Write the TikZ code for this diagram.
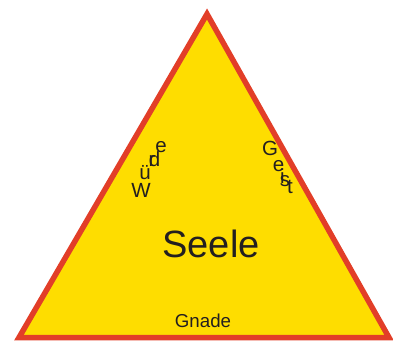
\documentclass[tikz,border=0pt]{standalone}
\usepackage{fontspec}
\setmainfont{Liberation Sans}
\definecolor{dreieckrot}{RGB}{226,62,40}
\definecolor{dreieckgelb}{RGB}{254,221,0}
\definecolor{schrift}{RGB}{35,31,32}
\tikzset{
  buchstabe/.style={anchor=base, inner sep=0pt, text=schrift, font=\fontsize{20.5}{22}\selectfont},
}
\begin{document}
\begin{tikzpicture}[x=1pt, y=-1pt]
\useasboundingbox (0,0) rectangle (393,341);
\draw[fill=dreieckgelb, draw=dreieckrot, line width=5.5pt, line join=miter] (19,337.5) -- (207,14) -- (389,337.5) -- cycle;
% Wuerde, linke Seite
\foreach \c/\x/\y/\n in {W/141/197/w1, ü/145/179.5/w2, r/152/166/w3, d/154.5/166/w4, e/161/152/w5}
{
	\node[buchstabe] (\n) at (\x,\y) {\c};
}
% Geist, rechte Seite
\foreach \c/\x/\y/\n in {G/270/155/g1, e/278.5/171.5/g2, i/282.5/183/g3, s/285/186/g4, t/290/193/g5}
{
	\node[buchstabe] (\n) at (\x,\y) {\c};
}
\node[anchor=base, inner sep=0pt, text=schrift, font=\fontsize{38}{40}\selectfont] (seele) at (211,257) {Seele};
\node[anchor=base, inner sep=0pt, text=schrift, font=\fontsize{18.7}{20}\selectfont] (gnade) at (203,327.7) {Gnade};
\end{tikzpicture}
\end{document}
